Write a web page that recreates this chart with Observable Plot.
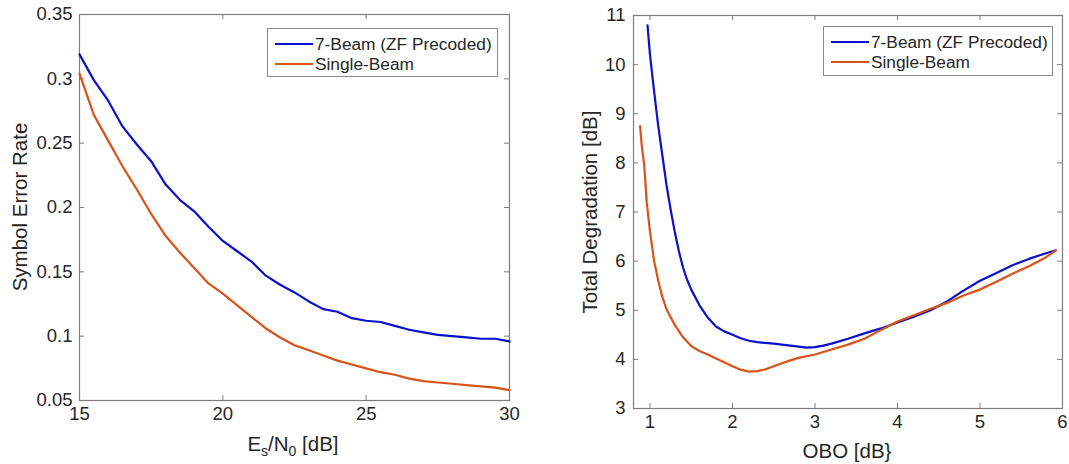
<!DOCTYPE html>
<html>
<head>
<meta charset="utf-8">
<script src="https://cdn.jsdelivr.net/npm/d3@7"></script>
<script src="https://cdn.jsdelivr.net/npm/@observablehq/plot@0.6"></script>
<style>
  body { margin: 0; background: #fff; }
  #wrap { position: relative; width: 1069px; height: 464px; background: #fff; font-family: "Liberation Sans", Arial, sans-serif; color: #262626; overflow: hidden; }
  .panel { position: absolute; top: 0; }
  .title { position: absolute; white-space: nowrap; font-size: 20.5px; transform: translate(-50%, -50%); }
  .ytitle { transform: translate(-50%, -50%) rotate(-90deg); }
  .title sub { font-size: 14px; vertical-align: -5px; line-height: 0; }
  .legend { position: absolute; border: 1px solid #8a8a8a; background: #fff; font-size: 17.3px; box-sizing: border-box; }
  .legend .row { position: absolute; left: 0; display: flex; align-items: center; height: 20px; white-space: nowrap; }
  .legend .swatch { width: 38px; height: 2px; margin-left: 7px; margin-right: 2px; }
</style>
</head>
<body>
<div id="wrap"></div>
<script>
// ---------- Data ----------
const seriesNames = ["7-Beam (ZF Precoded)", "Single-Beam"];
const seriesColors = ["#0a10cc", "#d95319"];

// Left panel: Symbol Error Rate vs Es/N0 [dB]
const esn0 = [15, 15.5, 16, 16.5, 17, 17.5, 18, 18.5, 19, 19.5, 20, 20.5, 21, 21.5, 22, 22.5,
              23, 23.5, 24, 24.5, 25, 25.5, 26, 26.5, 27, 27.5, 28, 28.5, 29, 29.5, 30];
const serMulti = [0.319, 0.299, 0.283, 0.263, 0.249, 0.236, 0.218, 0.206, 0.197, 0.185, 0.174,
                  0.166, 0.158, 0.147, 0.140, 0.134, 0.127, 0.121, 0.119, 0.114, 0.112, 0.111,
                  0.108, 0.105, 0.103, 0.101, 0.100, 0.099, 0.098, 0.098, 0.096];
const serSingle = [0.304, 0.272, 0.252, 0.232, 0.214, 0.195, 0.178, 0.165, 0.153, 0.141, 0.133,
                   0.124, 0.115, 0.106, 0.099, 0.093, 0.089, 0.085, 0.081, 0.078, 0.075, 0.072,
                   0.070, 0.067, 0.065, 0.064, 0.063, 0.062, 0.061, 0.060, 0.058];
const leftXTicks = [15, 20, 25, 30];
const leftYTicks = [0.05, 0.1, 0.15, 0.2, 0.25, 0.3, 0.35];

// Right panel: Total Degradation [dB] vs OBO [dB]
const oboMulti = [0.97, 1.0, 1.05, 1.1, 1.15, 1.2, 1.25, 1.3, 1.35, 1.4, 1.45, 1.5, 1.6, 1.7, 1.8,
                  1.9, 2.0, 2.1, 2.2, 2.3, 2.5, 2.7, 2.9, 3.0, 3.1, 3.2, 3.4, 3.6, 3.8, 4.0, 4.2,
                  4.4, 4.6, 4.8, 5.0, 5.2, 5.4, 5.6, 5.8, 5.92];
const tdMulti = [10.8, 10.2, 9.45, 8.75, 8.15, 7.55, 7.05, 6.6, 6.2, 5.87, 5.62, 5.42, 5.1, 4.85, 4.67,
                 4.57, 4.5, 4.43, 4.38, 4.35, 4.32, 4.28, 4.24, 4.25, 4.28, 4.32, 4.42, 4.53, 4.63,
                 4.75, 4.87, 5.0, 5.18, 5.4, 5.6, 5.76, 5.92, 6.05, 6.16, 6.22];
const oboSingle = [0.88, 0.9, 0.93, 0.96, 1.0, 1.05, 1.1, 1.15, 1.2, 1.3, 1.4, 1.5, 1.6, 1.7, 1.8,
                   1.9, 2.0, 2.1, 2.2, 2.3, 2.4, 2.5, 2.6, 2.7, 2.8, 3.0, 3.2, 3.4, 3.6, 3.8, 4.0,
                   4.2, 4.4, 4.6, 4.8, 5.0, 5.2, 5.4, 5.6, 5.8, 5.92];
const tdSingle = [8.75, 8.35, 7.95, 7.2, 6.6, 6.0, 5.6, 5.27, 5.02, 4.7, 4.45, 4.27, 4.17, 4.1, 4.02,
                  3.94, 3.86, 3.79, 3.75, 3.76, 3.8, 3.86, 3.92, 3.98, 4.03, 4.1, 4.2, 4.3, 4.42,
                  4.6, 4.77, 4.9, 5.03, 5.15, 5.3, 5.42, 5.58, 5.75, 5.9, 6.08, 6.22];
const rightXTicks = [1, 2, 3, 4, 5, 6];
const rightYTicks = [3, 4, 5, 6, 7, 8, 9, 10, 11];

// ---------- Build ----------
const wrap = document.getElementById("wrap");
const axisColor = "#7d7d7d";
const tickLen = 5;

function makeSeries(xs, ys, name) { return xs.map((x, i) => ({x, y: ys[i], name})); }

function panel({width, height, mt, mr, mb, ml, xDomain, yDomain, xTicks, yTicks, series, xPad, yPad}) {
  const ph = height - mt - mb;
  const pw = width - ml - mr;
  const marks = [
    Plot.frame({stroke: axisColor, strokeWidth: 1.2}),
    Plot.ruleX(xTicks, {x: d => d, insetTop: ph - tickLen, stroke: axisColor}),
    Plot.ruleX(xTicks, {x: d => d, insetBottom: ph - tickLen, stroke: axisColor}),
    Plot.ruleY(yTicks, {y: d => d, insetRight: pw - tickLen, stroke: axisColor}),
    Plot.ruleY(yTicks, {y: d => d, insetLeft: pw - tickLen, stroke: axisColor}),
    Plot.axisX(xTicks, {tickSize: 0, tickPadding: xPad, tickFormat: d => String(d), label: null, fill: "#262626"}),
    Plot.axisY(yTicks, {tickSize: 0, tickPadding: yPad, tickFormat: d => String(d), label: null, fill: "#262626"})
  ];
  series.forEach((s, i) => {
    marks.push(Plot.line(s, {x: "x", y: "y", stroke: seriesColors[i], strokeWidth: 2.2, curve: "linear"}));
  });
  return Plot.plot({
    width, height,
    marginTop: mt, marginRight: mr, marginBottom: mb, marginLeft: ml,
    x: {domain: xDomain},
    y: {domain: yDomain},
    style: {fontFamily: "'Liberation Sans', Arial, sans-serif", fontSize: "18.5px", color: "#262626", background: "white", overflow: "visible"},
    marks
  });
}

const left = panel({
  width: 534, height: 464, mt: 14, mr: 25, mb: 64, ml: 79,
  xDomain: [15, 30], yDomain: [0.05, 0.35],
  xTicks: leftXTicks, yTicks: leftYTicks, xPad: 6, yPad: 7,
  series: [makeSeries(esn0, serMulti, seriesNames[0]), makeSeries(esn0, serSingle, seriesNames[1])]
});
left.classList.add("panel");
left.style.left = "0px";
wrap.appendChild(left);

const right = panel({
  width: 535, height: 464, mt: 15, mr: 7, mb: 56, ml: 99,
  xDomain: [0.8, 6], yDomain: [3, 11],
  xTicks: rightXTicks, yTicks: rightYTicks, xPad: 6, yPad: 8,
  series: [makeSeries(oboMulti, tdMulti, seriesNames[0]), makeSeries(oboSingle, tdSingle, seriesNames[1])]
});
right.classList.add("panel");
right.style.left = "534px";
wrap.appendChild(right);

// Axis titles
function addTitle(html, x, y, rotate) {
  const d = document.createElement("div");
  d.className = "title" + (rotate ? " ytitle" : "");
  d.style.left = x + "px";
  d.style.top = y + "px";
  d.innerHTML = html;
  wrap.appendChild(d);
}
addTitle("Symbol Error Rate", 20, 207, true);
addTitle("E<sub>s</sub>/N<sub>0</sub> [dB]", 293, 444, false);
addTitle("Total Degradation [dB]", 590, 212, true);
addTitle("OBO [dB}", 847, 451, false);

// Legends
function addLegend(x, y, w, h) {
  const L = document.createElement("div");
  L.className = "legend";
  Object.assign(L.style, {left: x + "px", top: y + "px", width: w + "px", height: h + "px"});
  seriesNames.forEach((n, i) => {
    const r = document.createElement("div");
    r.className = "row";
    r.style.top = (5 + i * 20) + "px";
    const sw = document.createElement("div");
    sw.className = "swatch";
    sw.style.background = seriesColors[i];
    const t = document.createElement("span");
    t.textContent = n;
    r.appendChild(sw); r.appendChild(t);
    L.appendChild(r);
  });
  wrap.appendChild(L);
}
addLegend(267, 28, 231, 49);
addLegend(823, 26, 230, 50);
</script>
</body>
</html>
